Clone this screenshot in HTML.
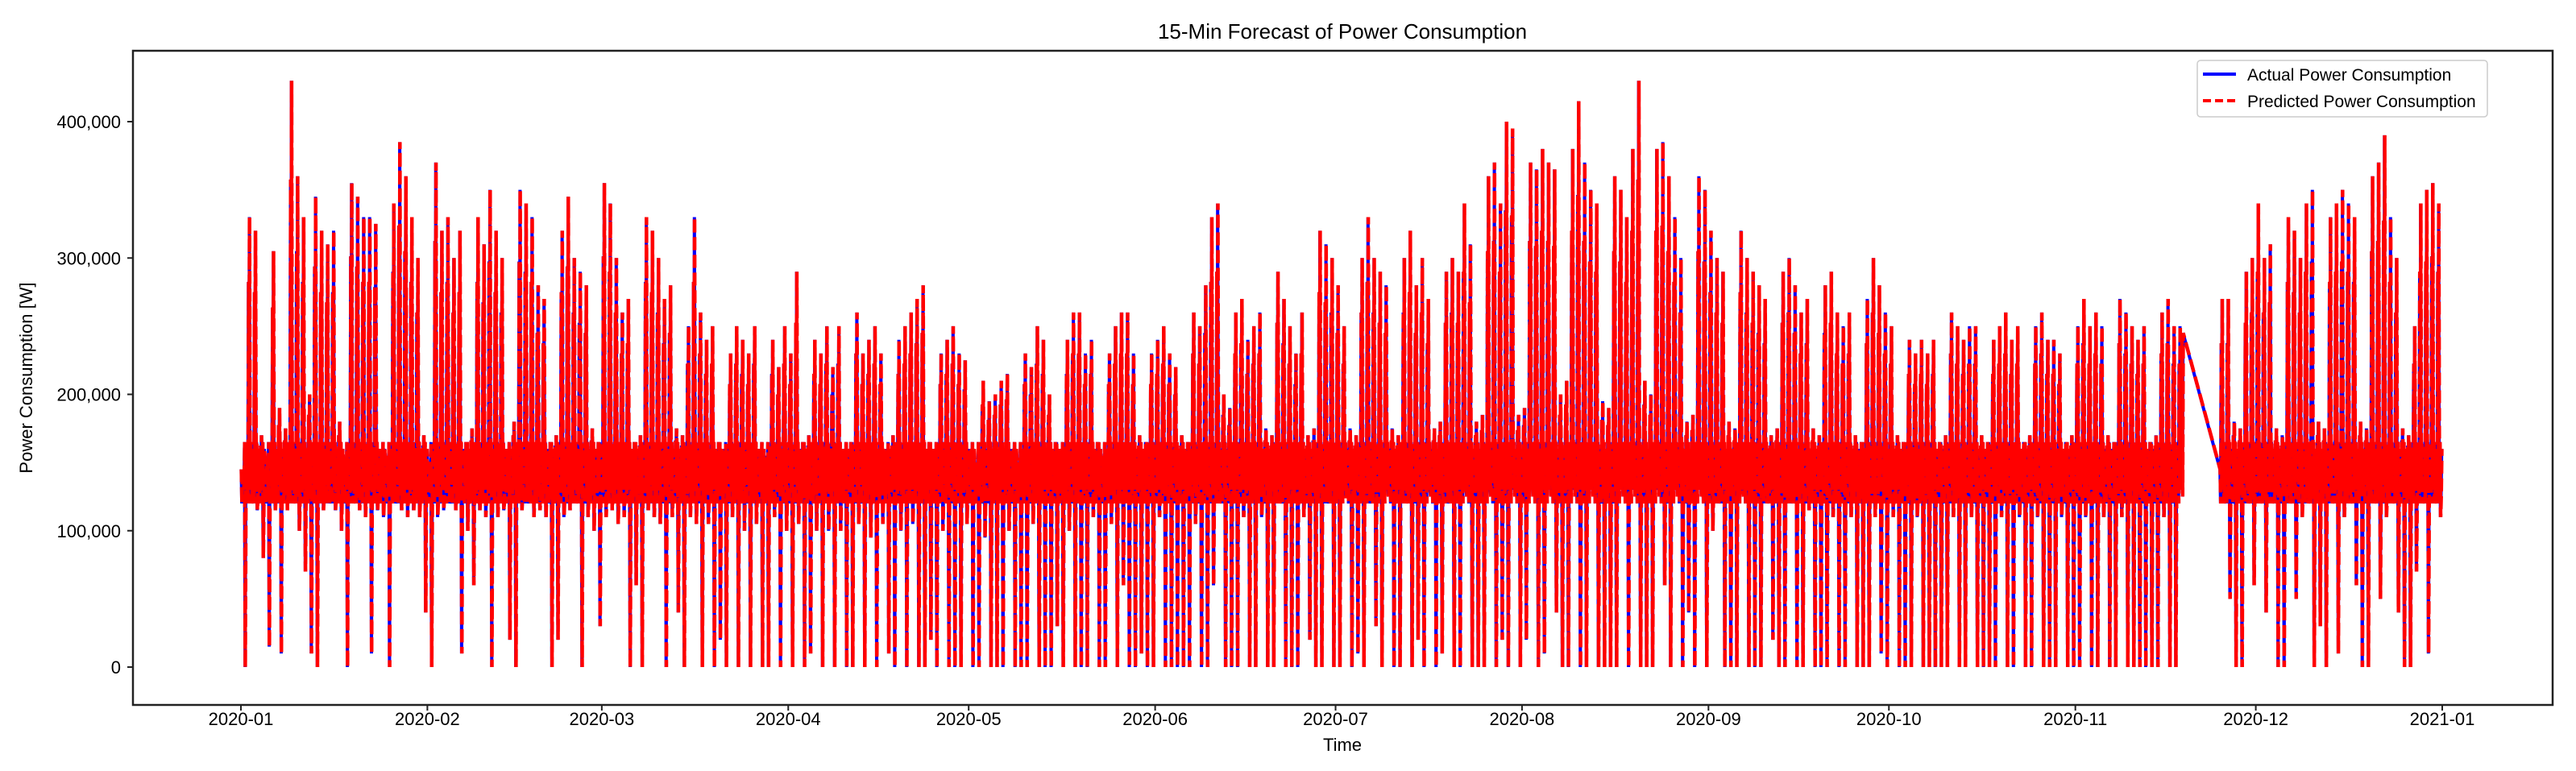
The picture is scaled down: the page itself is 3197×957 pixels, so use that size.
<!DOCTYPE html>
<html><head><meta charset="utf-8"><style>
html,body{margin:0;padding:0;background:#fff;}
svg{display:block;font-family:"Liberation Sans",sans-serif;}
</style></head><body>
<svg id="chart" width="3197" height="957" viewBox="0 0 3197 957" xmlns="http://www.w3.org/2000/svg">
<rect x="0" y="0" width="3197" height="957" fill="#fff"/>
<text x="1666" y="48" font-size="26" text-anchor="middle" fill="#000">15-Min Forecast of Power Consumption</text>
<defs><clipPath id="clip"><rect x="165" y="63" width="3003" height="812"/></clipPath></defs>
<g id="yticks"></g>
<g id="xticks"></g>
<g clip-path="url(#clip)">
<polyline id="actual" fill="none" stroke="#0000ff" stroke-width="4" stroke-linejoin="miter"/>
<polyline id="pred" fill="none" stroke="#ff0000" stroke-width="4.5" stroke-dasharray="16,6" stroke-linejoin="miter"/>
</g>
<rect x="165" y="63" width="3003" height="812" fill="none" stroke="#222" stroke-width="2.5"/>
<text x="1666" y="932" font-size="22" text-anchor="middle" fill="#000">Time</text>
<text transform="translate(40,469) rotate(-90)" font-size="22" text-anchor="middle" fill="#000">Power Consumption [W]</text>
<g>
<rect x="2727" y="75" width="360" height="70" rx="4" fill="#fff" fill-opacity="0.85" stroke="#ccc" stroke-width="1.5"/>
<line x1="2734" y1="92" x2="2775" y2="92" stroke="#0000ff" stroke-width="4"/>
<text x="2789" y="100" font-size="21" fill="#000">Actual Power Consumption</text>
<line x1="2734" y1="125" x2="2775" y2="125" stroke="#ff0000" stroke-width="4" stroke-dasharray="10,5"/>
<text x="2789" y="133" font-size="21" fill="#000">Predicted Power Consumption</text>
</g>
</svg>
<script>
// Daily peak values (thousands of W), Jan 1 2020 .. Dec 31 2020; null = missing data
const dailyHigh = [
145,330,320,170,150,305,190, 175,430,360,330,200,345,320, 310,320,180,150,355,345,330,
330,325,160,155,340,385,360, 330,300,170,150,370,320,330, 300,320,165,175,330,310,350,
320,300,160,180,350,340,330, 280,270,165,170,320,345,300, 290,280,175,165,355,340,300,
260,270,165,170,330,320,300, 270,280,175,170,250,330,260, 240,250,165,160,230,250,240,
230,250,160,155,240,220,250, 230,290,165,170,240,230,250, 220,250,160,165,260,230,240,
250,230,160,170,240,250,260, 270,280,165,160,230,240,250, 230,225,160,150,210,195,200,
210,215,160,150,230,220,250, 240,200,165,160,240,260,260, 230,240,165,155,230,250,260,
260,230,170,165,230,240,250, 230,220,170,165,260,250,280, 330,340,200,190,260,270,240,
250,260,175,170,290,270,250, 230,260,170,175,320,310,300, 280,250,175,170,300,330,300,
290,280,175,170,300,320,280, 300,270,175,180,290,300,290, 340,310,180,185,360,370,340,
400,395,185,190,370,365,380, 370,365,200,210,380,415,370, 350,340,195,190,360,350,330,
380,430,210,200,380,385,360, 330,300,180,185,360,350,320, 300,290,180,175,320,300,290,
280,270,170,175,290,300,280, 260,270,175,170,280,290,260, 250,260,170,165,270,300,280,
260,250,170,165,240,230,240, 230,240,165,170,260,250,240, 250,250,170,165,240,250,260,
240,250,165,170,250,260,240, 240,230,165,170,250,270,250, 260,250,170,165,270,260,250,
240,250,165,170,260,270,250, 250,null,null,null,null,null,null, 270,270,180,175,290,300,340,
300,310,175,170,330,320,300, 340,350,180,175,330,340,350, 340,330,180,175,360,370,390,
330,300,175,170,250,340,350, 355,340];
// Daily trough values (thousands of W)
const dailyLow = [
0,120,115,80,15,115,10, 115,120,100,70,10,0,115, 120,115,100,0,120,115,110,
10,115,110,0,120,115,110, 115,110,40,0,110,115,120, 115,10,100,60,115,110,0,
110,115,20,0,115,120,110, 115,110,0,20,110,115,120, 0,110,100,30,110,115,105,
110,0,60,0,115,110,105, 0,110,40,0,110,105,0, 105,0,20,0,110,0,100,
0,105,0,0,110,0,100, 0,105,0,10,100,0,100, 0,100,0,0,105,0,95,
0,105,10,0,100,0,105, 0,0,20,0,100,0,0, 0,105,0,0,95,0,0,
0,100,0,0,0,105,0, 0,0,30,0,100,0,0, 0,110,0,0,105,0,60,
0,0,10,0,0,110,0, 0,0,0,0,105,0,0, 60,120,0,0,0,110,0,
0,110,0,0,120,0,0, 0,110,20,0,0,120,0, 0,125,0,10,0,120,30,
0,130,0,0,120,0,20, 0,130,0,10,120,0,0, 130,0,0,0,130,0,20,
0,140,0,20,140,0,10, 140,40,0,0,140,0,0, 140,0,0,0,0,140,0,
140,0,0,0,140,60,0, 140,0,40,0,140,0,100, 120,0,0,0,130,0,0,
0,120,20,0,0,120,0, 0,115,0,0,0,110,0, 0,110,0,0,0,110,10,
0,110,0,0,0,110,0, 0,0,0,0,110,0,0, 110,0,0,0,0,110,0,
0,110,0,0,110,0,0, 0,110,0,0,0,110,0, 0,110,0,0,110,0,0,
0,0,0,0,110,0,0, 245,null,null,null,null,null,null, 120,50,0,0,120,60,120,
40,120,0,0,120,50,110, 120,0,30,0,120,10,110, 120,60,0,0,120,50,110,
120,40,0,0,70,120,10, 120,110];
const yTickValues = [0,100000,200000,300000,400000];
const yTickLabels = ["0","100,000","200,000","300,000","400,000"];
const xTickLabels = ["2020-01","2020-02","2020-03","2020-04","2020-05","2020-06","2020-07","2020-08","2020-09","2020-10","2020-11","2020-12","2021-01"];
const xTickDays = [0,31,60,91,121,152,182,213,244,274,305,335,366];

const X0=299, X1=3031, Y0=828, PX_PER_W=169.25/100000;
function xScale(d){return X0+d*(X1-X0)/366;}
function yScale(v){return Y0-v*PX_PER_W;}
const NS="http://www.w3.org/2000/svg";

const yg=document.getElementById('yticks');
yTickValues.forEach((v,i)=>{
  const y=yScale(v);
  const l=document.createElementNS(NS,'line');
  l.setAttribute('x1',158);l.setAttribute('x2',165);l.setAttribute('y1',y);l.setAttribute('y2',y);
  l.setAttribute('stroke','#222');l.setAttribute('stroke-width',2);
  
  
  yg.appendChild(l);
  const t=document.createElementNS(NS,'text');
  t.setAttribute('x',150);t.setAttribute('y',y+8);t.setAttribute('font-size',22);t.setAttribute('text-anchor','end');
  t.textContent=yTickLabels[i];
  
  
  yg.appendChild(t);
});
const xg=document.getElementById('xticks');
xTickDays.forEach((d,i)=>{
  const x=xScale(d);
  const l=document.createElementNS(NS,'line');
  l.setAttribute('x1',x);l.setAttribute('x2',x);l.setAttribute('y1',875);l.setAttribute('y2',882);
  l.setAttribute('stroke','#222');l.setAttribute('stroke-width',2);
  
  
  xg.appendChild(l);
  const t=document.createElementNS(NS,'text');
  t.setAttribute('x',x);t.setAttribute('y',900);t.setAttribute('font-size',22);t.setAttribute('text-anchor','middle');
  t.textContent=xTickLabels[i];
  
  
  xg.appendChild(t);
});

function buildPoints(shift){
  const pts=[];
  for(let d=0;d<dailyHigh.length;d++){
    const h=dailyHigh[d], lo=dailyLow[d];
    if(h===null||lo===null) continue;
    const nextMissing = d+1<dailyHigh.length && dailyHigh[d+1]===null;
    const seq=[[0.05,145000],[0.15,120000],[0.25,h*1000*0.75+35000],[0.32,135000],[0.4,h*1000],[0.5,130000],[0.6,165000],[0.7,lo*1000],[0.8,125000],[0.9,nextMissing?245000:160000]];
    seq.forEach(([f,v])=>pts.push(xScale(d+f+shift).toFixed(1)+','+yScale(v).toFixed(1)));
  }
  return pts.join(' ');
}
document.getElementById('actual').setAttribute('points',buildPoints(0));
document.getElementById('pred').setAttribute('points',buildPoints(0.03));
</script>
</body></html>
